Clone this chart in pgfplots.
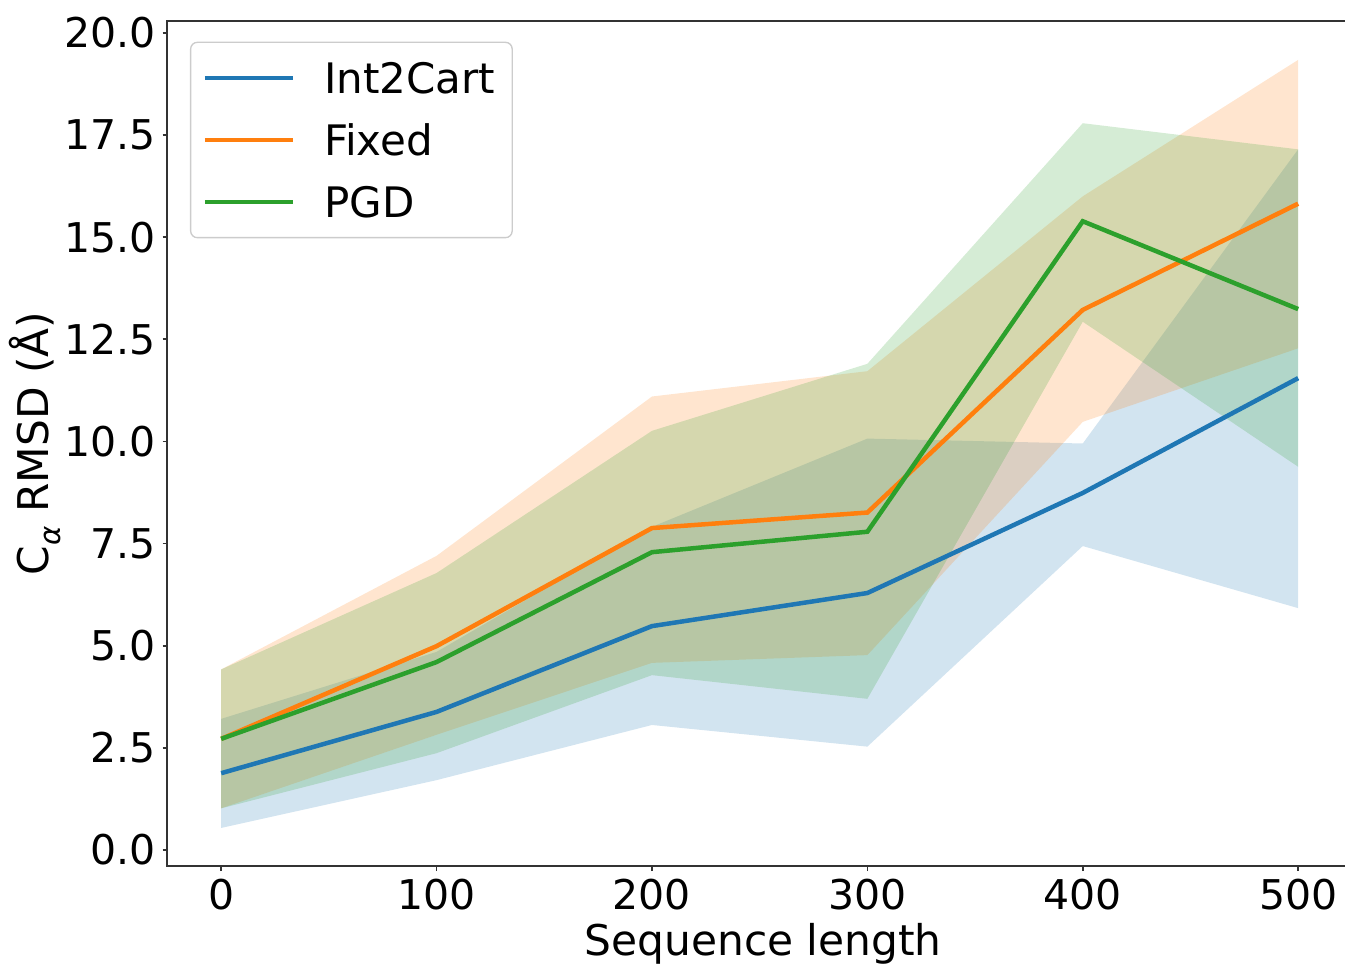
\documentclass[border=0pt]{standalone}
\usepackage{fontspec}
\setmainfont{DejaVu Sans}
\usepackage{pgfplots}
\pgfplotsset{compat=1.18}
\usepgfplotslibrary{fillbetween}

\definecolor{c0}{HTML}{1F77B4}
\definecolor{c1}{HTML}{FF7F0E}
\definecolor{c2}{HTML}{2CA02C}
\definecolor{legedge}{HTML}{CCCCCC}
\newcommand{\fs}{\fontsize{12.3}{14.8}\selectfont}
\newcommand{\fl}{\fontsize{12.7}{15.2}\selectfont}

\begin{document}
\begin{tikzpicture}
\begin{axis}[
    scale only axis,
    width=355.4pt, height=253.7pt,
    xmin=-25, xmax=525, ymin=-0.4, ymax=20.3,
    xtick={0,100,200,300,400,500},
    ytick={0,2.5,5,7.5,10,12.5,15,17.5,20},
    yticklabel style={/pgf/number format/fixed, /pgf/number format/fixed zerofill,
        /pgf/number format/precision=1, inner sep=0pt, xshift=-1.9pt},
    /pgf/number format/assume math mode=true,
    tick label style={font=\fs},
    xticklabel style={inner sep=0pt, yshift=-2.2pt},
    tick align=outside, major tick length=1.4pt,
    tick style={black!80, line width=0.5pt},
    xtick pos=bottom, ytick pos=left,
    axis line style={line width=0.6pt, black!80},
    xlabel={Sequence length},
    ylabel={C\raisebox{-0.28em}{\fontsize{8.8}{10}\selectfont\itshape α} RMSD (Å)},
    label style={font=\fl},
    xlabel style={at={(axis description cs:0.503,0)}, anchor=north, inner sep=0pt, yshift=-16.8pt},
    ylabel style={at={(axis description cs:-0.1117,0.5)}, anchor=center, inner sep=0pt},
    legend cell align=left,
    legend image code/.code={\draw[#1, line width=1.35pt] (0pt,0pt) -- (26.4pt,0pt);},
    legend style={at={(rel axis cs:0,1)}, anchor=north west, xshift=6.8pt, yshift=-6.3pt,
        draw=legedge, rounded corners=2pt, line width=0.4pt, fill=white,
        inner xsep=3.6pt, inner ysep=1.4pt, column sep=8.7pt, row sep=0pt,
        nodes={inner sep=0pt, minimum height=18.6pt, text depth=0pt, text width=52.8pt,
            font=\fontsize{12.6}{15}\selectfont}},
]
% Int2Cart band
\addplot[name path=bU, draw=none, forget plot] coordinates {(0,3.21) (100,4.85) (200,7.91) (300,10.07) (400,9.95) (500,17.15)};
\addplot[name path=bL, draw=none, forget plot] coordinates {(0,0.54) (100,1.71) (200,3.06) (300,2.53) (400,7.44) (500,5.92)};
\addplot[fill=c0, fill opacity=0.2, draw=none, forget plot] fill between[of=bU and bL];
% Fixed band
\addplot[name path=oU, draw=none, forget plot] coordinates {(0,4.42) (100,7.20) (200,11.10) (300,11.72) (400,16.00) (500,19.34)};
\addplot[name path=oL, draw=none, forget plot] coordinates {(0,1.02) (100,2.82) (200,4.58) (300,4.77) (400,10.48) (500,12.28)};
\addplot[fill=c1, fill opacity=0.2, draw=none, forget plot] fill between[of=oU and oL];
% PGD band
\addplot[name path=gU, draw=none, forget plot] coordinates {(0,4.42) (100,6.78) (200,10.26) (300,11.90) (400,17.79) (500,17.15)};
\addplot[name path=gL, draw=none, forget plot] coordinates {(0,1.02) (100,2.37) (200,4.28) (300,3.70) (400,12.93) (500,9.38)};
\addplot[fill=c2, fill opacity=0.2, draw=none, forget plot] fill between[of=gU and gL];
% mean lines
\addplot[c0, line width=1.35pt] coordinates {(0,1.88) (100,3.38) (200,5.48) (300,6.29) (400,8.74) (500,11.55)};
\addplot[c1, line width=1.35pt] coordinates {(0,2.72) (100,4.99) (200,7.88) (300,8.26) (400,13.22) (500,15.82)};
\addplot[c2, line width=1.35pt] coordinates {(0,2.72) (100,4.60) (200,7.29) (300,7.79) (400,15.39) (500,13.24)};
\legend{Int2Cart,Fixed,PGD}
\end{axis}
\pgfresetboundingbox
\path (current axis.south west) ++(-50.2pt,-29.3pt) rectangle ++(403.5pt,289.2pt);
\end{tikzpicture}
\end{document}
